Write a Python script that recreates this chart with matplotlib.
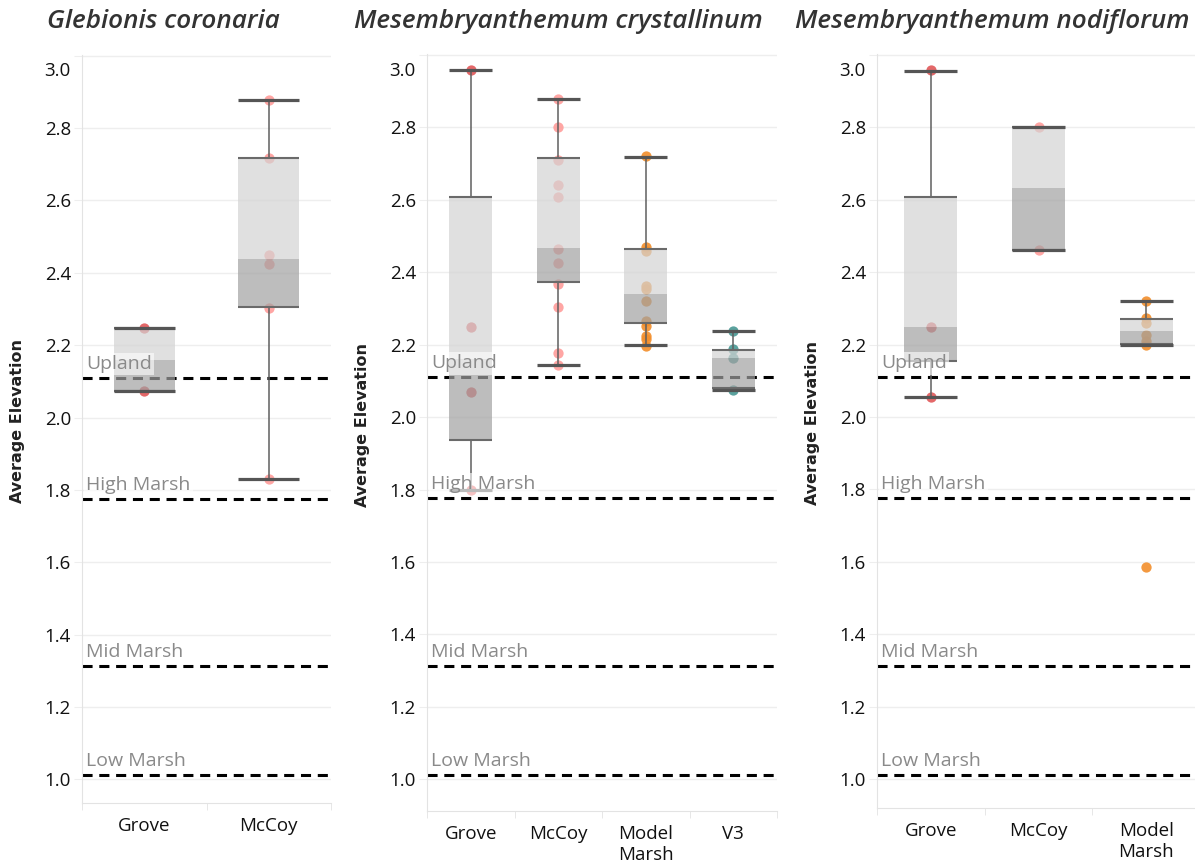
import matplotlib
matplotlib.use("Agg")
import matplotlib.pyplot as plt
from matplotlib.transforms import ScaledTranslation

plt.rcParams['font.family'] = ['Open Sans', 'DejaVu Sans']

# zone reference lines
zones = ["Upland", "High Marsh", "Mid Marsh", "Low Marsh"]
zone_elev = [2.11, 1.776, 1.313, 1.012]

# Glebionis coronaria
gc_sites = ["Grove", "McCoy"]
gc_points = [[2.248, 2.072],
             [2.878, 2.717, 2.449, 2.423, 2.303, 1.831]]
gc_whislo = [2.072, 1.831]
gc_q1 = [2.072, 2.305]
gc_med = [2.159, 2.437]
gc_q3 = [2.248, 2.717]
gc_whishi = [2.248, 2.878]

# Mesembryanthemum crystallinum
mc_sites = ["Grove", "McCoy", "Model\nMarsh", "V3"]
mc_points = [[2.96, 2.25, 2.07, 1.80],
             [2.878, 2.80, 2.711, 2.642, 2.607, 2.465, 2.426, 2.369, 2.303, 2.176, 2.143],
             [2.72, 2.47, 2.46, 2.363, 2.355, 2.32, 2.265, 2.253, 2.225, 2.215, 2.196],
             [2.237, 2.187, 2.162, 2.076]]
mc_whislo = [1.80, 2.143, 2.198, 2.076]
mc_q1 = [1.936, 2.373, 2.260, 2.080]
mc_med = [2.16, 2.467, 2.339, 2.164]
mc_q3 = [2.607, 2.717, 2.465, 2.185]
mc_whishi = [2.96, 2.878, 2.719, 2.239]

# Mesembryanthemum nodiflorum
mn_sites = ["Grove", "McCoy", "Model\nMarsh"]
mn_points = [[2.96, 2.25, 2.055],
             [2.80, 2.462],
             [2.32, 2.274, 2.259, 2.227, 2.21, 2.198, 1.585]]
mn_whislo = [2.055, 2.462, 2.198]
mn_q1 = [2.154, 2.462, 2.202]
mn_med = [2.248, 2.632, 2.239]
mn_q3 = [2.608, 2.80, 2.270]
mn_whishi = [2.957, 2.80, 2.320]

site_colors = {"Grove": "#e15759", "McCoy": "#ff9d9a",
               "Model\nMarsh": "#f28e2b", "V3": "#499894"}

W, H = 1195, 867
fig = plt.figure(figsize=(W / 100, H / 100), dpi=100)

panels = [
    ("Glebionis coronaria", 163, (82, 54.5, 331, 803), 0.935,
     gc_sites, gc_points, gc_whislo, gc_q1, gc_med, gc_q3, gc_whishi),
    ("Mesembryanthemum crystallinum", 558, (427, 54, 777, 811), 0.912,
     mc_sites, mc_points, mc_whislo, mc_q1, mc_med, mc_q3, mc_whishi),
    ("Mesembryanthemum nodiflorum", 992, (877, 54, 1200, 808), 0.92,
     mn_sites, mn_points, mn_whislo, mn_q1, mn_med, mn_q3, mn_whishi),
]

bw = 0.49
grid_c = "#eeeeee"
axis_c = "#e3e3e3"

for title, tx, (l, t, r, b), ybot, sites, pts, wlo, q1, med, q3, whi in panels:
    ax = fig.add_axes([l / W, 1 - b / H, (r - l) / W, (b - t) / H])
    n = len(sites)
    xs = list(range(n))

    # zone lines (under the boxes)
    for zname, zy in zip(zones, zone_elev):
        ax.axhline(zy, color="black", lw=2.2, ls=(0, (3.3, 2.2)), zorder=1.5)
        ax.annotate(zname, xy=(0, zy), xycoords=("axes fraction", "data"),
                    xytext=(3.0, 3.5), textcoords="offset points",
                    ha="left", va="bottom", fontsize=14, color="#8a8a8a", zorder=6,
                    bbox=dict(boxstyle="square,pad=0.12", fc="white", ec="none", alpha=0.6))

    # points
    for x, s, p in zip(xs, sites, pts):
        ax.scatter([x] * len(p), p, s=55, color=site_colors[s], alpha=0.9,
                   linewidths=0, zorder=2)

    # boxes
    ax.bar(xs, [m - a for m, a in zip(med, q1)], bottom=q1, width=bw,
           color="#a1a1a1", alpha=0.7, zorder=3)
    ax.bar(xs, [c - m for c, m in zip(q3, med)], bottom=med, width=bw,
           color="#d3d3d3", alpha=0.7, zorder=3)
    ax.vlines(xs, wlo, q1, color="#5f5f5f", lw=1.1, zorder=4)
    ax.vlines(xs, q3, whi, color="#5f5f5f", lw=1.1, zorder=4)
    for x, a, c in zip(xs, q1, q3):
        ax.hlines([a, c], x - bw / 2, x + bw / 2, color="#6a6a6a", lw=1.5, zorder=4)
    for x, lo, hi in zip(xs, wlo, whi):
        ax.hlines([lo, hi], x - bw / 2, x + bw / 2, color="#555555", lw=2.3, zorder=4)

    ax.set_xlim(-0.5, n - 0.5)
    ax.set_ylim(ybot, 3.003)
    yt = [1.0, 1.2, 1.4, 1.6, 1.8, 2.0, 2.2, 2.4, 2.6, 2.8, 3.0]
    ax.set_yticks(yt)
    ax.set_yticklabels(["%.1f" % v for v in yt])
    ax.grid(axis="y", color=grid_c, lw=1, zorder=0)
    ax.set_axisbelow(True)
    ax.tick_params(axis="y", length=6, color=grid_c, pad=2, labelsize=13.5,
                   labelcolor="#111111")
    ax.set_xticks(xs)
    ax.set_xticklabels(sites, linespacing=1.25)
    ax.set_xticks([i - 0.5 for i in range(n + 1)], minor=True)
    ax.tick_params(axis="x", which="major", length=0, pad=10, labelsize=13.5,
                   labelcolor="#111111")
    ax.tick_params(axis="x", which="minor", length=5, color=axis_c)
    for sp in ["top", "right"]:
        ax.spines[sp].set_visible(False)
    for sp in ["left", "bottom"]:
        ax.spines[sp].set_color(axis_c)

    # top label sits inside the pane, like the original
    lab = ax.get_yticklabels()[-1]
    lab.set_transform(lab.get_transform() + ScaledTranslation(0, -0.135, fig.dpi_scale_trans))

    ax.set_ylabel("Average Elevation", fontsize=11.5, fontweight="bold", color="#222222",
                  family=["DejaVu Sans"])
    ax.yaxis.set_label_coords(-57 / (r - l), 0.51)

    fig.text(tx / W, 1 - 21 / H, title, ha="center", va="center", fontsize=18.8,
             style="italic", fontweight="semibold", color="#333333")

fig.savefig("out.png", dpi=100)
